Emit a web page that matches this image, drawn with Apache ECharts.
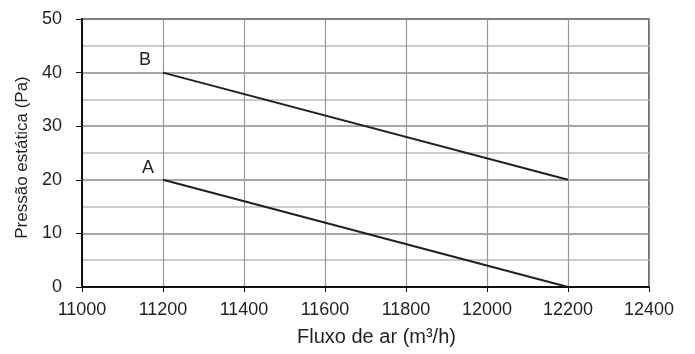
<!DOCTYPE html>
<html><head><meta charset="utf-8">
<script src="https://cdn.jsdelivr.net/npm/echarts@6/dist/echarts.min.js"></script>
<style>html,body{margin:0;padding:0;background:#fff}#c{width:695px;height:354px}</style>
</head><body><div id="c"></div>
<script>
var curveNames = ['A', 'B'];
var flowA = [11200, 12200];
var pressureA = [20, 0];
var flowB = [11200, 12200];
var pressureB = [40, 20];
var xTicks = [11000, 11200, 11400, 11600, 11800, 12000, 12200, 12400];
var yTicks = [0, 10, 20, 30, 40, 50];

var font = 'Liberation Sans';
function build(name, xs, ys, off) {
  return xs.map(function (x, i) {
    var item = { value: [x, ys[i]] };
    if (i === 0) {
      item.label = { show: true, formatter: name, position: 'left', distance: 0, offset: off,
        color: '#231f20', fontSize: 18, fontFamily: font };
    }
    return item;
  });
}
var chart = echarts.init(document.getElementById('c'));
chart.setOption({
  animation: false,
  grid: { left: 82, right: 46, top: 19, bottom: 67, show: true, borderColor: '#333', borderWidth: 1.5 },
  xAxis: {
    type: 'value', min: xTicks[0], max: xTicks[xTicks.length - 1], interval: 200,
    name: 'Fluxo de ar (m³/h)', nameLocation: 'middle', nameGap: 40,
    nameTextStyle: { color: '#231f20', fontSize: 20, fontFamily: font, padding: [0, 0, 0, 22] },
    axisLine: { show: true, lineStyle: { color: '#111', width: 2 } },
    axisTick: { show: true, length: 5, lineStyle: { color: '#111' } },
    axisLabel: { color: '#231f20', fontSize: 18, fontFamily: font, margin: 14,
      formatter: function (v) { return String(v); } },
    splitLine: { show: true, lineStyle: { color: '#999', width: 1.2 } }
  },
  yAxis: {
    type: 'value', min: yTicks[0], max: yTicks[yTicks.length - 1], interval: 10,
    name: 'Pressão estática (Pa)', nameLocation: 'middle', nameGap: 48,
    nameTextStyle: { color: '#231f20', fontSize: 17, fontFamily: font, padding: [0, 9, 0, 0] },
    axisLine: { show: true, lineStyle: { color: '#111', width: 2 } },
    axisTick: { show: true, length: 6, lineStyle: { color: '#111' } },
    axisLabel: { color: '#231f20', fontSize: 18, fontFamily: font, margin: 20 },
    splitLine: { show: true, lineStyle: { color: '#888', width: 1.5 } },
    minorTick: { show: false, splitNumber: 2 },
    minorSplitLine: { show: true, lineStyle: { color: '#bbb', width: 1.5 } }
  },
  series: [
    { type: 'line', data: build(curveNames[0], flowA, pressureA, [-9, -12]), symbol: 'circle', symbolSize: 0.1,
      showSymbol: true, lineStyle: { color: '#231f20', width: 2 }, itemStyle: { color: '#231f20' } },
    { type: 'line', data: build(curveNames[1], flowB, pressureB, [-12, -13]), symbol: 'circle', symbolSize: 0.1,
      showSymbol: true, lineStyle: { color: '#231f20', width: 2 }, itemStyle: { color: '#231f20' } }
  ]
});
</script></body></html>
